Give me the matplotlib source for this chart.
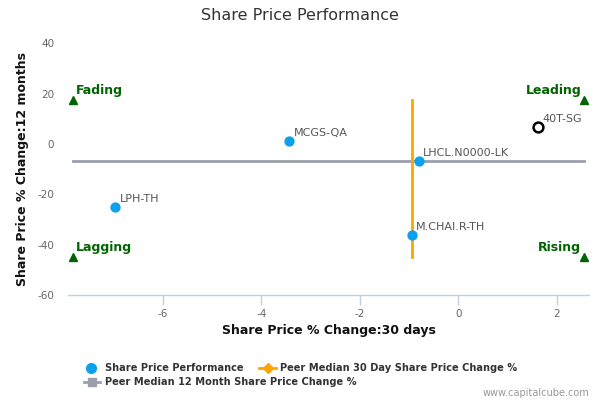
import matplotlib
matplotlib.use("Agg")
import matplotlib.pyplot as plt
from matplotlib.lines import Line2D

plt.rcParams["axes.unicode_minus"] = False

# ---- data ----
names = ["MCGS-QA", "LHCL.N0000-LK", "LPH-TH", "M.CHAI.R-TH"]
x30 = [-3.43, -0.80, -6.97, -0.94]
y12 = [1.2, -6.6, -24.9, -36.2]
focus_name = "40T-SG"
focus_x = [1.62]
focus_y = [6.9]
peer_median_30 = -0.93
peer_median_12 = -6.75
quad_x = [-7.83, 2.56]
quad_y = [-44.9, 17.3]
quad_labels = ["Fading", "Leading", "Lagging", "Rising"]
xticks = [-6, -4, -2, 0, 2]
yticks = [40, 20, 0, -20, -40, -60]

W, H = 600, 400
fig = plt.figure(figsize=(6, 4), dpi=100)
ax = fig.add_axes([68 / W, 1 - 295 / H, (589 - 68) / W, (295 - 43.3) / H])
ax.set_xlim(-7.93, 2.66)
ax.set_ylim(-60, 40)

blue = "#0aa2ee"
orange = "#ffa500"
gray = "#9a9fab"
green = "#006400"

# peer median lines
ax.plot([quad_x[0], quad_x[1]], [peer_median_12, peer_median_12], color=gray, lw=2, zorder=2)
ax.plot([peer_median_30, peer_median_30], [quad_y[0], quad_y[1]], color=orange, lw=2, zorder=2)

# points
ax.scatter(x30, y12, s=55, color=blue, zorder=4, linewidths=0)
for n, xv, yv in zip(names, x30, y12):
    ax.annotate(n, (xv, yv), xytext=(3, 2), textcoords="offset points",
                fontsize=8, color="#555555", ha="left", va="bottom", zorder=5)
ax.scatter(focus_x, focus_y, s=50, facecolors="white", edgecolors="black", linewidths=1.8, zorder=4)
ax.annotate(focus_name, (focus_x[0], focus_y[0]), xytext=(3, 2), textcoords="offset points",
            fontsize=8, color="#555555", ha="left", va="bottom", zorder=5)

# quadrant markers
qpos = [(quad_x[0], quad_y[1]), (quad_x[1], quad_y[1]), (quad_x[0], quad_y[0]), (quad_x[1], quad_y[0])]
for lab, (qx, qy) in zip(quad_labels, qpos):
    ax.plot([qx], [qy], marker="^", color=green, markersize=5.5, zorder=3, linestyle="none")
    if qx < 0:
        ax.annotate(lab, (qx, qy), xytext=(2, 2.5), textcoords="offset points", fontsize=9,
                    fontweight="bold", color=green, ha="left", va="bottom")
    else:
        ax.annotate(lab, (qx, qy), xytext=(-2, 2.5), textcoords="offset points", fontsize=9,
                    fontweight="bold", color=green, ha="right", va="bottom")

# axes styling
for side in ["top", "right", "left"]:
    ax.spines[side].set_visible(False)
ax.spines["bottom"].set_color("#c0d0e0")
ax.spines["bottom"].set_linewidth(1)
ax.set_xticks(xticks)
ax.set_yticks(yticks)
ax.tick_params(axis="x", colors="#c0d0e0", length=7, width=1, labelcolor="#666666", labelsize=7.5, pad=3)
ax.tick_params(axis="y", length=0, labelcolor="#666666", labelsize=7.5, pad=10)
ax.set_xlabel("Share Price % Change:30 days", fontsize=9, fontweight="bold", color="#111111", labelpad=4)
ax.set_ylabel("Share Price % Change:12 months", fontsize=9, fontweight="bold", color="#111111", labelpad=6)

fig.text(300 / W, 1 - 16 / H, "Share Price Performance", ha="center", va="center", fontsize=11.5, color="#333333")

# legend (manual)
def fx(p):
    return p / W

def fy(p):
    return 1 - p / H

fig.add_artist(Line2D([fx(91)], [fy(368)], marker="o", color=blue, markersize=7, linestyle="none"))
fig.text(fx(105), fy(368), "Share Price Performance", fontsize=7.1, fontweight="bold", color="#333333", va="center")
fig.add_artist(Line2D([fx(259), fx(276)], [fy(368), fy(368)], color=orange, lw=2))
fig.add_artist(Line2D([fx(267.5)], [fy(368)], color=orange, marker="D", markersize=5, linestyle="none"))
fig.text(fx(280), fy(368), "Peer Median 30 Day Share Price Change %", fontsize=7.1, fontweight="bold", color="#333333", va="center")
fig.add_artist(Line2D([fx(84), fx(100)], [fy(382), fy(382)], color=gray, lw=2))
fig.add_artist(Line2D([fx(92)], [fy(382)], color=gray, marker="s", markersize=6, linestyle="none"))
fig.text(fx(105), fy(382), "Peer Median 12 Month Share Price Change %", fontsize=7.1, fontweight="bold", color="#333333", va="center")

fig.text(fx(589), fy(393), "www.capitalcube.com", fontsize=7, color="#999999", ha="right", va="center")

fig.savefig("out.png", dpi=100)
